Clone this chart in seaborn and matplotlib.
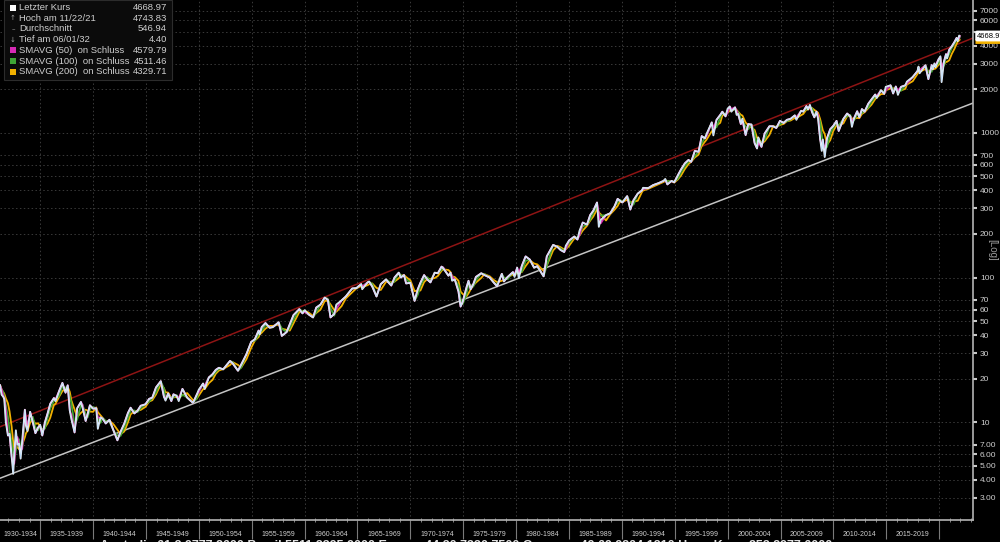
import numpy as np
import pandas as pd
import matplotlib
matplotlib.use('Agg')
import matplotlib.pyplot as plt
import matplotlib.transforms as mtransforms
from matplotlib.patches import Rectangle
import seaborn as sns

# S&P 500 close (decimal year, index level)
years = [
    1931.2, 1931.35, 1931.5, 1931.6, 1931.75, 1931.95, 1932.1, 1932.3, 1932.45, 1932.55,
    1932.7, 1932.85, 1933.0, 1933.15, 1933.3, 1933.55, 1933.65, 1933.8, 1934.05, 1934.3,
    1934.55, 1934.8, 1935.0, 1935.2, 1935.45, 1935.7, 1935.95, 1936.3, 1936.45, 1936.8,
    1937.1, 1937.4, 1937.6, 1937.8, 1937.95, 1938.25, 1938.5, 1938.85, 1939.0, 1939.3,
    1939.5, 1939.7, 1940.0, 1940.3, 1940.45, 1940.7, 1940.9, 1941.2, 1941.55, 1941.95,
    1942.3, 1942.6, 1942.95, 1943.3, 1943.55, 1943.9, 1944.2, 1944.5, 1944.95, 1945.3,
    1945.6, 1945.95, 1946.4, 1946.7, 1946.85, 1947.1, 1947.4, 1947.6, 1947.9, 1948.1,
    1948.45, 1948.9, 1949.45, 1949.8, 1950.0, 1950.4, 1950.55, 1950.95, 1951.3, 1951.6,
    1951.9, 1952.3, 1952.95, 1953.2, 1953.7, 1954.0, 1954.5, 1954.95, 1955.3, 1955.65,
    1955.75, 1955.95, 1956.3, 1956.7, 1957.0, 1957.55, 1957.85, 1958.3, 1958.6, 1958.95,
    1959.5, 1959.8, 1960.0, 1960.4, 1960.8, 1961.1, 1961.5, 1961.9, 1962.2, 1962.45,
    1962.8, 1963.0, 1963.5, 1963.9, 1964.5, 1964.9, 1965.35, 1965.45, 1965.95, 1966.1,
    1966.4, 1966.8, 1967.2, 1967.7, 1967.9, 1968.2, 1968.5, 1968.9, 1969.1, 1969.4,
    1969.6, 1970.0, 1970.4, 1970.7, 1970.95, 1971.3, 1971.6, 1971.9, 1972.3, 1972.6,
    1972.95, 1973.1, 1973.6, 1973.8, 1973.95, 1974.2, 1974.55, 1974.75, 1974.95, 1975.3,
    1975.5, 1975.7, 1975.95, 1976.2, 1976.7, 1977.0, 1977.5, 1977.9, 1978.2, 1978.65,
    1978.85, 1979.2, 1979.7, 1979.85, 1980.1, 1980.25, 1980.55, 1980.9, 1981.3, 1981.7,
    1982.0, 1982.6, 1982.9, 1983.5, 1983.9, 1984.2, 1984.55, 1984.7, 1985.0, 1985.5,
    1985.8, 1986.0, 1986.3, 1986.7, 1987.0, 1987.3, 1987.65, 1987.82, 1988.0, 1988.5,
    1988.9, 1989.3, 1989.6, 1989.8, 1990.05, 1990.5, 1990.8, 1991.1, 1991.5, 1991.9,
    1992.0, 1992.5, 1992.95, 1993.5, 1993.95, 1994.1, 1994.3, 1994.7, 1994.95, 1995.3,
    1995.6, 1995.95, 1996.3, 1996.55, 1996.9, 1997.25, 1997.55, 1997.85, 1998.0, 1998.5,
    1998.65, 1998.95, 1999.3, 1999.5, 1999.8, 2000.0, 2000.2, 2000.35, 2000.7, 2000.85,
    2001.0, 2001.25, 2001.4, 2001.7, 2001.95, 2002.25, 2002.55, 2002.78, 2002.9, 2003.2,
    2003.5, 2003.95, 2004.3, 2004.6, 2004.95, 2005.3, 2005.6, 2005.95, 2006.35, 2006.5,
    2006.95, 2007.15, 2007.45, 2007.6, 2007.78, 2008.0, 2008.2, 2008.4, 2008.55, 2008.75,
    2008.9, 2009.0, 2009.18, 2009.4, 2009.7, 2010.0, 2010.3, 2010.5, 2010.95, 2011.3,
    2011.6, 2011.75, 2011.95, 2012.25, 2012.45, 2012.7, 2012.95, 2013.3, 2013.6, 2013.95,
    2014.1, 2014.5, 2014.8, 2014.95, 2015.4, 2015.65, 2015.9, 2016.1, 2016.4, 2016.8,
    2016.95, 2017.5, 2017.95, 2018.05, 2018.15, 2018.7, 2018.98, 2019.3, 2019.4, 2019.55,
    2019.65, 2019.95, 2020.12, 2020.23, 2020.45, 2020.65, 2020.75, 2020.95, 2021.2, 2021.45,
    2021.65, 2021.75, 2021.89, 2021.95,
]
close = [
    18.1, 15.5, 15.0, 14.5, 10.0, 8.1, 8.3, 5.8, 4.4, 6.0,
    8.8, 7.0, 7.1, 5.6, 7.5, 12.2, 9.5, 8.7, 11.8, 10.0,
    8.4, 9.2, 9.6, 8.1, 10.0, 11.5, 13.4, 14.7, 14.0, 16.5,
    18.7, 16.0, 18.0, 12.0, 10.5, 8.5, 12.5, 13.8, 12.6, 10.2,
    11.5, 13.1, 12.4, 12.5, 9.0, 10.8, 10.6, 9.8, 10.4, 8.7,
    7.5, 8.6, 9.8, 11.6, 12.6, 11.5, 12.0, 13.0, 13.3, 14.5,
    14.8, 17.4, 19.2, 15.0, 14.1, 15.8, 14.0, 15.6, 15.2, 14.0,
    17.0, 14.8, 13.6, 15.5, 16.8, 18.5, 17.0, 20.4, 21.5, 23.0,
    23.8, 23.2, 26.5, 25.5, 22.7, 25.0, 29.5, 35.9, 37.5, 43.0,
    40.5, 45.5, 48.5, 45.0, 45.5, 49.0, 39.5, 42.0, 47.5, 55.0,
    60.5, 56.5, 59.5, 55.5, 53.0, 62.0, 65.0, 72.6, 70.0, 53.0,
    56.0, 65.0, 69.5, 74.0, 84.0, 84.5, 90.0, 83.0, 92.5, 94.0,
    86.5, 74.0, 90.0, 97.0, 93.0, 88.0, 100.0, 108.0, 100.0, 104.0,
    91.0, 92.0, 69.0, 83.0, 92.0, 104.0, 97.0, 92.5, 108.0, 107.0,
    119.0, 116.0, 103.0, 108.0, 95.0, 97.0, 80.0, 63.0, 68.0, 85.0,
    95.0, 83.0, 90.0, 101.0, 107.0, 104.0, 100.0, 92.0, 87.0, 106.0,
    94.0, 101.0, 109.0, 101.0, 117.0, 99.0, 121.0, 140.0, 133.0, 117.0,
    120.0, 102.0, 140.0, 168.0, 163.0, 155.0, 150.0, 166.0, 180.0, 192.0,
    183.0, 211.0, 240.0, 232.0, 270.0, 290.0, 330.0, 224.0, 250.0, 270.0,
    278.0, 310.0, 350.0, 340.0, 330.0, 365.0, 295.0, 343.0, 380.0, 400.0,
    417.0, 415.0, 435.0, 450.0, 466.0, 480.0, 440.0, 465.0, 455.0, 510.0,
    560.0, 615.0, 650.0, 630.0, 750.0, 740.0, 950.0, 915.0, 980.0, 1180.0,
    960.0, 1230.0, 1330.0, 1400.0, 1300.0, 1470.0, 1520.0, 1400.0, 1500.0, 1330.0,
    1350.0, 1150.0, 1250.0, 965.0, 1150.0, 1140.0, 850.0, 780.0, 930.0, 800.0,
    990.0, 1110.0, 1110.0, 1080.0, 1210.0, 1170.0, 1230.0, 1250.0, 1320.0, 1230.0,
    1420.0, 1400.0, 1530.0, 1450.0, 1560.0, 1380.0, 1280.0, 1400.0, 1250.0, 900.0,
    750.0, 900.0, 680.0, 920.0, 1060.0, 1120.0, 1210.0, 1030.0, 1250.0, 1360.0,
    1300.0, 1100.0, 1260.0, 1410.0, 1280.0, 1460.0, 1400.0, 1590.0, 1700.0, 1840.0,
    1740.0, 1970.0, 1860.0, 2080.0, 2130.0, 1870.0, 2090.0, 1830.0, 2080.0, 2130.0,
    2260.0, 2430.0, 2670.0, 2870.0, 2580.0, 2930.0, 2350.0, 2940.0, 2750.0, 3020.0,
    2840.0, 3230.0, 3380.0, 2240.0, 3100.0, 3500.0, 3270.0, 3750.0, 3970.0, 4250.0,
    4530.0, 4300.0, 4704.0, 4669.0,
]

y_ticks = [3, 4, 5, 6, 7, 10, 20, 30, 40, 50, 60, 70, 100, 200, 300, 400, 500,
           600, 700, 1000, 2000, 3000, 4000, 5000, 6000, 7000]
hidden_tick_labels = [5000]   # sits behind the last-price box
period_starts = list(range(1930, 2020, 5))

# channel lines (start / end of the visible range)
trend_years = [1931.2, 2023.2]
upper_trend = [9.3, 4520]
lower_trend = [4.1, 1606]

legend_labels = ['Letzter Kurs', 'Hoch am 11/22/21', 'Durchschnitt', 'Tief am 06/01/32',
                 'SMAVG (50)  on Schluss', 'SMAVG (100)  on Schluss', 'SMAVG (200)  on Schluss']
legend_values = ['4668.97', '4743.83', '546.94', '4.40', '4579.79', '4511.46', '4329.71']
last_sma200 = 4329.71
last_close = 4668.97

footer = ('Australia 61 2 9777 8600 Brazil 5511 2395 9000 Europe 44 20 7330 7500 '
          'Germany 49 69 9204 1210 Hong Kong 852 2977 6000')

C_SMA50 = '#d62ab4'
C_SMA100 = '#3fa535'
C_SMA200 = '#f2b100'
C_GRID = '#3a3a3a'
C_TEXT = '#cfcfcf'

sns.set_theme(style='dark', rc={'axes.facecolor': 'black', 'figure.facecolor': 'black'})
plt.rcParams['font.family'] = ['Liberation Sans', 'DejaVu Sans']

# moving averages on the close
yr = np.array(years)
dates = pd.to_datetime([f'{int(y)}-01-01' for y in yr]) + pd.to_timedelta((yr % 1) * 365.25, unit='D')
df = pd.DataFrame({'year': yr, 'close': close}, index=dates)
df['sma50'] = df['close'].rolling('73D', min_periods=1).mean()
df['sma100'] = df['close'].rolling('145D', min_periods=1).mean()
df['sma200'] = df['close'].rolling('290D', min_periods=1).mean()
df = df.reset_index(drop=True)

trend = pd.DataFrame({'year': trend_years, 'upper': upper_trend, 'lower': lower_trend})

fig = plt.figure(figsize=(10, 5.42), dpi=100)
ax = fig.add_axes([0, 1 - 520 / 542, 0.973, 520 / 542])
ax.set_facecolor('black')

sns.lineplot(data=trend, x='year', y='upper', color='#8e1414', lw=1.1, ax=ax)
sns.lineplot(data=trend, x='year', y='lower', color='#c4c4c4', lw=1.1, ax=ax)
sns.lineplot(data=df, x='year', y='sma200', color=C_SMA200, lw=1.3, ax=ax, estimator=None, sort=False)
sns.lineplot(data=df, x='year', y='sma100', color=C_SMA100, lw=1.3, ax=ax, estimator=None, sort=False)
sns.lineplot(data=df, x='year', y='sma50', color=C_SMA50, lw=1.3, ax=ax, estimator=None, sort=False)
sns.lineplot(data=df, x='year', y='close', color='#f4f4f4', lw=1.3, ax=ax, estimator=None, sort=False)
ax.plot(df['year'], df['close'], color='#8fc8ff', lw=0.5, alpha=0.6)

ax.set_yscale('log')
ax.set_xlim(1931.2, 2023.2)
ax.set_ylim(2.11, 8280)
ax.set_xlabel('')
ax.set_ylabel('')

# y axis on the right
ax.yaxis.tick_right()
ax.set_yticks(y_ticks)
ax.yaxis.set_minor_locator(matplotlib.ticker.NullLocator())
ax.set_yticklabels(['' if v in hidden_tick_labels else (f'{v:.2f}' if v < 10 else f'{v:d}')
                    for v in y_ticks])
ax.tick_params(axis='y', which='major', direction='out', length=3, width=1.5,
               color='#c8c8c8', labelsize=6, labelcolor=C_TEXT, pad=2, right=True, left=False)

# x axis: 5-year separators, yearly minor ticks, labels between separators
ax.set_xticks(list(range(1935, 2021, 5)))
ax.set_xticklabels([])
ax.set_xticks(list(range(1932, 2024)), minor=True)
ax.tick_params(axis='x', which='major', direction='out', length=14, width=0.8, color='#7a7a7a', bottom=True)
ax.tick_params(axis='x', which='minor', direction='inout', length=3, width=0.6, color='#9a9a9a', bottom=True)

ax.grid(True, which='major', axis='both', linestyle=(0, (1.5, 2.5)), color=C_GRID, lw=0.7)

for s in ['top', 'left']:
    ax.spines[s].set_visible(False)
for s in ['right', 'bottom']:
    ax.spines[s].set_visible(True)
    ax.spines[s].set_color('#b4b4b4')
    ax.spines[s].set_linewidth(1.2)

trans = mtransforms.blended_transform_factory(ax.transData, ax.transAxes)
x0 = ax.get_xlim()[0]
for p in period_starts:
    left = max(p, x0)
    ax.text((left + p + 5) / 2, -0.027, f'{p}-{p + 4}', transform=trans, ha='center', va='center',
            fontsize=5, color=C_TEXT, clip_on=False)

# last-value tags on the right axis: SMA 200 peeks out under the last price
tag_trans = mtransforms.blended_transform_factory(ax.transAxes, ax.transData)
ax.plot([1.002, 1.03], [last_sma200, last_sma200], transform=tag_trans,
        color=C_SMA200, lw=3.5, clip_on=False, zorder=19, solid_capstyle='butt')
ax.annotate(f'{last_close:.2f}', xy=(1.0, last_close), xycoords=('axes fraction', 'data'), xytext=(3, 0),
            textcoords='offset points', ha='left', va='center', fontsize=5.5, color='black',
            bbox=dict(boxstyle='round,pad=0.25', fc='white', ec='none'), zorder=20, annotation_clip=False)

fig.text(0.992, 1 - 250 / 542, '[Log]', rotation=270, ha='center', va='center', fontsize=7, color='#9a9a9a')

# legend block in the upper left
fig.patches.append(Rectangle((4 / 1000, 1 - 80 / 542), 168 / 1000, 80 / 542, transform=fig.transFigure,
                             fc='#0b0b0b', ec='#2c2c2c', lw=0.8, zorder=5))
row_y = [7.5, 18.2, 28.9, 39.6, 50.3, 61.0, 71.7]
markers = [('sq', 'white'), ('↑', '#a0a0a0'), ('–', '#a0a0a0'), ('↓', '#a0a0a0'),
           ('sq', C_SMA50), ('sq', C_SMA100), ('sq', C_SMA200)]
for ry, lab, val, (m, mc) in zip(row_y, legend_labels, legend_values, markers):
    fy = 1 - ry / 542
    if m == 'sq':
        fig.patches.append(Rectangle((10 / 1000, fy - 3 / 542), 6 / 1000, 6 / 542,
                                     transform=fig.transFigure, fc=mc, ec='none', zorder=6))
    else:
        fig.text(13 / 1000, fy, m, ha='center', va='center', fontsize=5, color=mc,
                 family=['DejaVu Sans'], zorder=6)
    fig.text(19 / 1000, fy, lab, ha='left', va='center', fontsize=6.8, color=C_TEXT, zorder=6)
    fig.text(167 / 1000, fy, val, ha='right', va='center', fontsize=6.8, color=C_TEXT, zorder=6)

# footer line, mostly below the bottom edge as in the source screenshot
fig.text(0.1, 1 - 540.5 / 542, footer, ha='left', va='top', fontsize=9, fontweight='bold', color='#e0e0e0')

fig.savefig('out.png', dpi=100, facecolor='black')
